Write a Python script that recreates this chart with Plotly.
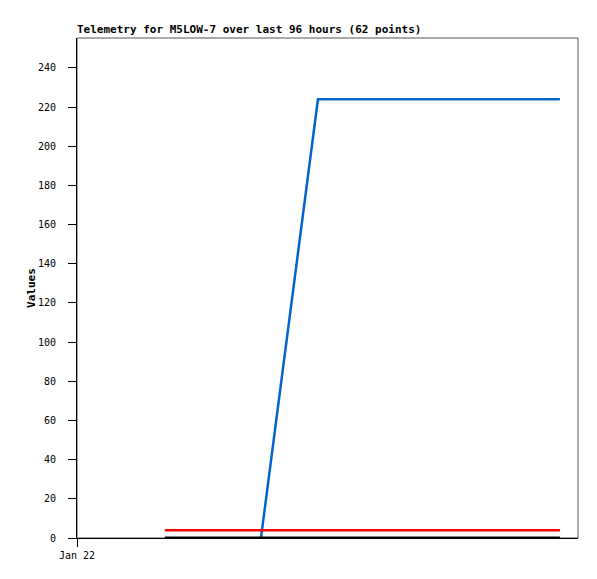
import plotly.graph_objects as go

title_text = "Telemetry for M5LOW-7 over last 96 hours (62 points)"
y_title = "Values"

# series (time, value)
black_t = ["2024-01-22 16:50", "2024-01-25 20:32"]
black_v = [0, 0]
red_t = ["2024-01-22 16:50", "2024-01-25 20:32"]
red_v = [4, 4]
blue_t = ["2024-01-23 11:15", "2024-01-23 22:10", "2024-01-25 20:32"]
blue_v = [0, 224, 224]

x_range = ["2024-01-22 00:00", "2024-01-26 00:00"]
x_tickvals = ["2024-01-22 00:00"]
x_ticktext = ["Jan 22"]
y_tickvals = list(range(0, 241, 20))

font = "DejaVu Sans Mono"
W, H = 589, 571

fig = go.Figure()
fig.add_trace(go.Scatter(x=blue_t, y=blue_v, mode="lines",
                         line=dict(color="#0066cc", width=2.5), showlegend=False))
fig.add_trace(go.Scatter(x=red_t, y=red_v, mode="lines",
                         line=dict(color="#ff0000", width=2.5), showlegend=False))
fig.add_trace(go.Scatter(x=black_t, y=black_v, mode="lines",
                         line=dict(color="#000000", width=3), showlegend=False))

fig.add_shape(type="rect", xref="paper", yref="paper", x0=0, y0=0, x1=1, y1=1,
              line=dict(color="#555555", width=1), layer="below")

fig.update_layout(
    width=W, height=H,
    margin=dict(l=69, r=19, t=30, b=41),
    paper_bgcolor="white", plot_bgcolor="white",
    title=dict(text=title_text, x=69/W, xanchor="left", y=1-25/H, yanchor="bottom",
               font=dict(family=font, size=11, color="black", weight="bold")),
    xaxis=dict(type="date", range=x_range, tickvals=x_tickvals, ticktext=x_ticktext,
               showgrid=False, zeroline=False, showline=True, linecolor="black", linewidth=1,
               ticks="outside", ticklen=8, tickcolor="black",
               tickfont=dict(family=font, size=10, color="black")),
    yaxis=dict(range=[0, 255.3], tickvals=y_tickvals, showgrid=False, zeroline=False,
               showline=True, linecolor="black", linewidth=1,
               ticks="outside", ticklen=8, tickcolor="black", ticklabelstandoff=10,
               tickfont=dict(family=font, size=10, color="black"),
               title=dict(text=y_title, standoff=0,
                          font=dict(family=font, size=11, color="black", weight="bold"))),
)

fig.write_html("out.html")
